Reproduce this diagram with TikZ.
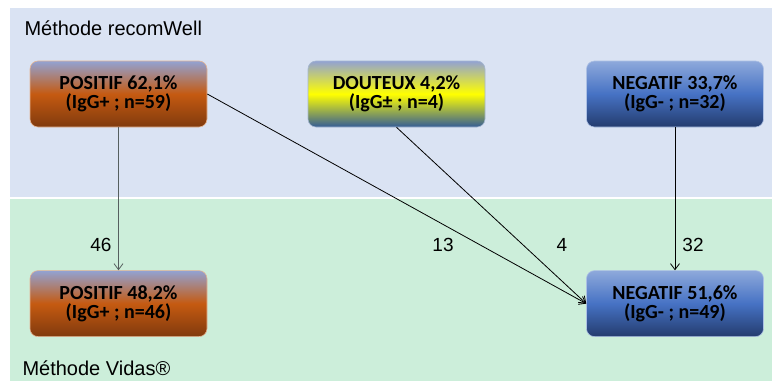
\documentclass[tikz,border=0pt]{standalone}
\usepackage{fontspec}
\setmainfont{Liberation Sans}
\newfontfamily\boxfont{Carlito}
\usetikzlibrary{arrows.meta,positioning}
\definecolor{recomcol}{RGB}{218,227,243}
\definecolor{vidascol}{RGB}{204,238,218}
\definecolor{topcol}{RGB}{146,162,210}
\definecolor{poscol}{RGB}{197,90,17}
\definecolor{posdark}{RGB}{128,58,14}
\definecolor{doutcol}{RGB}{255,255,0}
\definecolor{doutdark}{RGB}{52,92,150}
\definecolor{negtop}{RGB}{142,169,219}
\definecolor{negcol}{RGB}{70,114,196}
\definecolor{negdark}{RGB}{36,60,110}
\definecolor{linkgray}{RGB}{85,95,95}
\tikzset{
  result/.style  = {rectangle, rounded corners=8pt, draw=#1!45!white, line width=0.6pt,
                    minimum width=177pt, minimum height=66pt, align=center,
                    font=\boxfont\bfseries\fontsize{20}{18.5}\selectfont, inner sep=2pt},
  positive/.style = {result=poscol, top color=topcol, bottom color=posdark, middle color=poscol},
  doubtful/.style = {result=doutdark, top color=topcol, bottom color=doutdark, middle color=doutcol},
  negative/.style = {result=negcol, top color=negtop, bottom color=negdark, middle color=negcol},
  method/.style  = {anchor=west, font=\fontsize{20}{24}\selectfont},
  count/.style   = {font=\fontsize{19}{22}\selectfont},
  link/.style    = {-{Straight Barb[length=6pt,width=9pt]}, line width=0.8pt},
}

\begin{document}
\begin{tikzpicture}[x=1pt,y=-1pt]
  \useasboundingbox (0,0) rectangle (772,381);

  % the two methods
  \fill[recomcol] (10,8) rectangle (772,196.5);
  \fill[vidascol] (10,198.5) rectangle (772,381);
  \node[method] (recom) at (21,28) {Méthode recomWell};
  \node[method] (vidas) at (19,368) {Méthode Vidas®};

  % recomWell results
  \node[positive] (pos1) at (118.5,94) {POSITIF 62,1\%\\(IgG+ ; n=59)};
  \node[doubtful] (dout) at (396.5,94) {DOUTEUX 4,2\%\\(IgG± ; n=4)};
  \node[negative] (neg1) at (675,94) {NEGATIF 33,7\%\\(IgG- ; n=32)};

  % Vidas results
  \node[positive, below=143pt of pos1] (pos2) {POSITIF 48,2\%\\(IgG+ ; n=46)};
  \node[negative, below=143pt of neg1] (neg2) {NEGATIF 51,6\%\\(IgG- ; n=49)};

  \draw[link, draw=linkgray] (pos1) -- (pos2);
  \draw[link] (pos1.east) -- (neg2.west);
  \draw[link] (dout.south) -- (neg2.west);
  \draw[link] (neg1) -- (neg2);

  \node[count] (n46) at (101,245) {46};
  \node[count] (n13) at (443,245) {13};
  \node[count] (n4)  at (562,245) {4};
  \node[count] (n32) at (693,245) {32};
\end{tikzpicture}
\end{document}
